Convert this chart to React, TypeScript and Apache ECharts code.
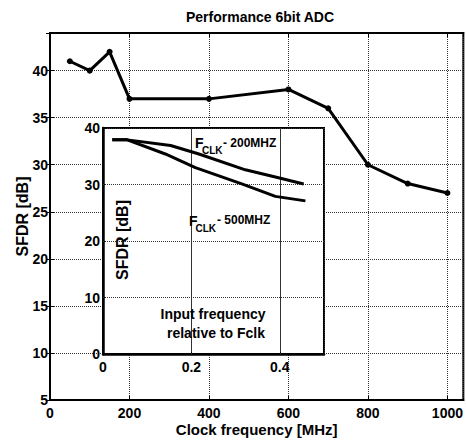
import React, { useEffect, useRef } from "react";
import * as echarts from "echarts";

const FONT = "Liberation Sans";

// Main chart: SFDR vs clock frequency
const clockFreq = [50, 100, 150, 200, 400, 600, 700, 800, 900, 1000];
const sfdrMain = [41, 40, 42, 37, 37, 38, 36, 30, 28, 27];

// Inset: SFDR vs input frequency relative to Fclk
const inset200X = [0.021, 0.055, 0.153, 0.217, 0.322, 0.397, 0.454];
const inset200Y = [37.9, 37.9, 36.9, 35.4, 32.6, 31.2, 30.1];
const inset500X = [0.021, 0.055, 0.141, 0.209, 0.314, 0.39, 0.458];
const inset500Y = [37.9, 37.9, 35.4, 33.0, 30.1, 27.9, 27.1];
const insetGridX = [0.2, 0.4];
const insetGridY = [10, 20, 30];

const titleText = "Performance 6bit ADC";
const xName = "Clock frequency [MHz]";
const yName = "SFDR [dB]";

const zip = (xs: number[], ys: number[]) => xs.map((x, i) => [x, ys[i]]);

const labelStyle = { color: "#000", fontFamily: FONT, fontWeight: "bold" as const, fontSize: 14 };
const dottedStyle = () => ({ color: "#333", type: "dotted" as const, width: 1 });
const dotted = () => ({ show: true, lineStyle: dottedStyle() });
const innerTick = () => ({ show: true, inside: true, length: 4, lineStyle: { color: "#000" } });

const txt = (text: string, x: number, y: number, size: number, extra: any = {}) => ({
  type: "text",
  x,
  y,
  z: 50,
  style: {
    text,
    fill: "#000",
    font: `bold ${size}px "${FONT}"`,
    textAlign: "left",
    textVerticalAlign: "middle",
    ...extra,
  },
});

const mainOption = {
  animation: false,
  backgroundColor: "#fff",
  title: {
    text: titleText,
    left: 181,
    top: 5,
    textStyle: { color: "#000", fontFamily: FONT, fontWeight: "bold", fontSize: 14 },
  },
  grid: { left: 50, right: 1, top: 33, bottom: 41, show: true, borderColor: "#000", borderWidth: 2, backgroundColor: "#fff" },
  xAxis: [
    {
      type: "value", min: 0, max: 1040, interval: 200, position: "bottom",
      axisLine: { show: true, lineStyle: { color: "#000", width: 2 } },
      axisTick: innerTick(),
      axisLabel: { ...labelStyle, margin: 6, showMaxLabel: false, formatter: (v: number) => String(v) },
      splitLine: dotted(),
      name: xName, nameLocation: "middle", nameGap: 22, nameMoveOverlap: false,
      nameTextStyle: { color: "#000", fontFamily: FONT, fontWeight: "bold", fontSize: 15 },
    },
    {
      type: "value", min: 0, max: 1040, interval: 200, position: "top",
      axisLine: { show: true, lineStyle: { color: "#000", width: 2 } },
      axisTick: innerTick(),
      axisLabel: { show: false }, splitLine: { show: false },
    },
  ],
  yAxis: [
    {
      type: "value", min: 5, max: 44, interval: 5, position: "left",
      axisLine: { show: true, lineStyle: { color: "#000", width: 2 } },
      axisTick: innerTick(),
      axisLabel: { ...labelStyle, margin: 2, showMaxLabel: false },
      splitLine: dotted(),
      name: yName, nameLocation: "middle", nameGap: 20, nameMoveOverlap: false,
      nameTextStyle: { color: "#000", fontFamily: FONT, fontWeight: "bold", fontSize: 16 },
    },
    {
      type: "value", min: 5, max: 44, interval: 5, position: "right",
      axisLine: { show: true, lineStyle: { color: "#000", width: 2 } },
      axisTick: innerTick(),
      axisLabel: { show: false }, splitLine: { show: false },
    },
  ],
  series: [
    {
      type: "line", xAxisIndex: 0, yAxisIndex: 0, data: zip(clockFreq, sfdrMain),
      lineStyle: { color: "#000", width: 3 }, itemStyle: { color: "#000" },
      symbol: "circle", symbolSize: 6,
    },
  ],
};

const insetOption = {
  animation: false,
  backgroundColor: "transparent",
  grid: { left: 103, top: 128, width: 221, height: 226, show: false },
  xAxis: {
    type: "value", min: 0, max: 0.5, interval: 0.2, position: "bottom",
    axisLine: { show: true, lineStyle: { color: "#000", width: 2.5 } },
    axisTick: { ...innerTick(), length: 3 },
    axisLabel: { ...labelStyle, margin: 6, showMaxLabel: false, formatter: (v: number) => String(+v.toFixed(1)) },
    splitLine: dotted(),
  },
  yAxis: {
    type: "value", min: 0, max: 40, interval: 10, position: "left",
    axisLine: { show: true, lineStyle: { color: "#000", width: 2.5 } },
    axisTick: { ...innerTick(), length: 3 },
    axisLabel: { ...labelStyle, margin: 3 },
    splitLine: dotted(),
  },
  series: [
    {
      type: "line", data: zip(inset200X, inset200Y),
      lineStyle: { color: "#000", width: 3 }, showSymbol: false, symbol: "none", z: 8,
      markLine: {
        z: 7,
        silent: true,
        symbol: "none",
        label: { show: false },
        lineStyle: dottedStyle(),
        data: [...insetGridX.map((v) => ({ xAxis: v })), ...insetGridY.map((v) => ({ yAxis: v }))],
      },
    },
    {
      type: "line", data: zip(inset500X, inset500Y),
      lineStyle: { color: "#000", width: 3 }, showSymbol: false, symbol: "none", z: 8,
    },
  ],
  graphic: [
    txt("F", 195, 143, 14),
    txt("CLK", 202, 150, 10),
    txt("- 200MHZ", 223, 143, 12),
    txt("F", 189, 221, 14),
    txt("CLK", 195.5, 228.5, 10),
    txt("- 500MHZ", 217, 220, 12),
    txt("Input frequency", 213, 314, 14, { textAlign: "center" }),
    txt("relative to Fclk", 216, 333, 14, { textAlign: "center" }),
    { ...txt("SFDR [dB]", 122, 240, 16, { textAlign: "center" }), rotation: Math.PI / 2 },
  ],
};

export default function App() {
  const mainRef = useRef<HTMLDivElement>(null);
  const insetRef = useRef<HTMLDivElement>(null);
  useEffect(() => {
    if (!mainRef.current || !insetRef.current) return;
    const main = echarts.init(mainRef.current, null, { renderer: "svg" });
    main.setOption(mainOption as any);
    const inset = echarts.init(insetRef.current, null, { renderer: "svg" });
    inset.setOption(insetOption as any);
    return () => {
      inset.dispose();
      main.dispose();
    };
  }, []);
  const box: React.CSSProperties = { position: "fixed", left: 0, top: 0, width: 466, height: 442 };
  const insetFrame: React.CSSProperties = {
    position: "fixed",
    left: 101.75,
    top: 126.75,
    width: 223.5,
    height: 228.5,
    boxSizing: "border-box",
    border: "2.5px solid #000",
    background: "#fff",
  };
  return (
    <>
      <div ref={mainRef} style={box} />
      <div style={insetFrame} />
      <div ref={insetRef} style={{ ...box, pointerEvents: "none" }} />
    </>
  );
}
